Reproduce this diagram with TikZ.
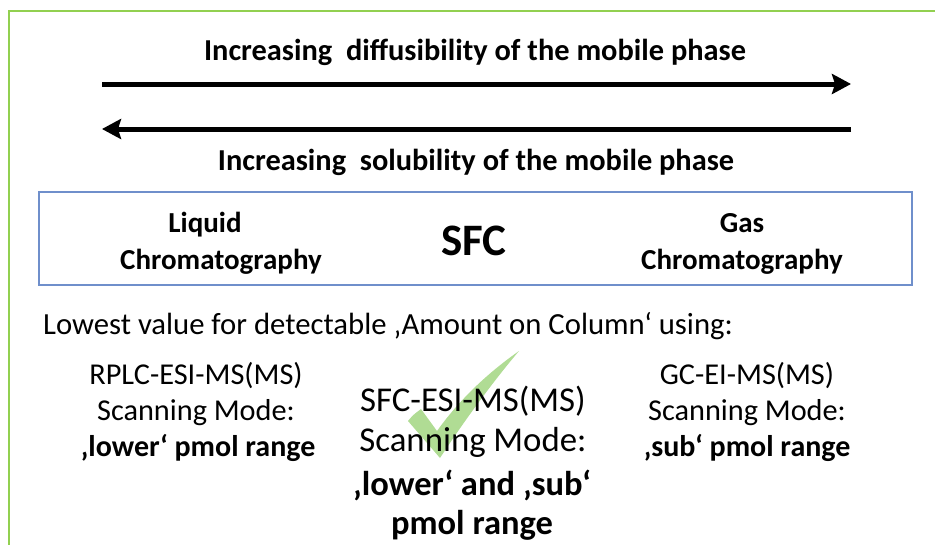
\documentclass[tikz,border=0pt]{standalone}
\usepackage{fontspec}
\setmainfont{Carlito}
\usetikzlibrary{arrows.meta}
\definecolor{framegreen}{HTML}{92D050}
\definecolor{checkgreen}{HTML}{B0DC94}
\definecolor{boxblue}{HTML}{6F8FCB}
\tikzset{
  hdr/.style={font=\bfseries\fontsize{30.4}{36}\selectfont, anchor=base, inner sep=0pt},
  boxlbl/.style={font=\bfseries\fontsize{29}{34}\selectfont, anchor=base, inner sep=0pt},
  sfclbl/.style={font=\bfseries\fontsize{45}{50}\selectfont, anchor=base, inner sep=0pt},
  plain/.style={font=\fontsize{30.7}{36}\selectfont, anchor=base, inner sep=0pt},
  side/.style={font=\fontsize{30.3}{36}\selectfont, anchor=base, inner sep=0pt},
  sidebold/.style={font=\bfseries\fontsize{30}{36}\selectfont, anchor=base, inner sep=0pt},
  mid/.style={font=\fontsize{34.8}{40}\selectfont, anchor=base, inner sep=0pt},
  midbold/.style={font=\bfseries\fontsize{34.5}{40}\selectfont, anchor=base, inner sep=0pt},
  bigarrow/.style={line width=5pt, -{Stealth[length=19pt,width=20pt,inset=3pt]}},
}
\begin{document}
\begin{tikzpicture}[x=1pt,y=-1pt]
\useasboundingbox (0,0) rectangle (935,544);
% frame
\draw[framegreen, line width=2.5pt] (9,560) -- (9,11) -- (950,11);
% check mark
\fill[checkgreen] (408,421) .. controls (413,415) .. (421,409) -- (437,431)
  .. controls (462,396) and (492,370) .. (519,351)
  .. controls (496,378) and (466,418) .. (440,458) -- cycle;
% headers and arrows
\node[hdr] (h1) at (475,60) {Increasing\ \ diffusibility of the mobile phase};
\coordinate (a1s) at (102,84);
\coordinate (a1e) at (851,84);
\draw[bigarrow] (a1s) -- (a1e);
\coordinate (a2s) at (851,129);
\coordinate (a2e) at (102,129);
\draw[bigarrow] (a2s) -- (a2e);
\node[hdr] (h2) at (476,170) {Increasing\ \ solubility of the mobile phase};
% box
\draw[boxblue, line width=1.2pt] (39,192) rectangle (912,285);
\node[boxlbl] (lc1) at (205,232) {Liquid};
\node[boxlbl] (lc2) at (221,269) {Chromatography};
\node[sfclbl] (sfc) at (474,255) {SFC};
\node[boxlbl] (gc1) at (742,232) {Gas};
\node[boxlbl] (gc2) at (742,269) {Chromatography};
% lower text
\node[plain, anchor=base west] (low) at (43,334) {Lowest value for detectable ‚Amount on Column‘ using:};
\node[side] (l1) at (196,384) {RPLC-ESI-MS(MS)};
\node[side] (l2) at (196,420) {Scanning Mode:};
\node[sidebold] (l3) at (198,456) {‚lower‘ pmol range};
\node[mid] (m1) at (473,411) {SFC-ESI-MS(MS)};
\node[mid] (m2) at (473,451) {Scanning Mode:};
\node[midbold] (m3) at (472,495) {‚lower‘ and ‚sub‘};
\node[midbold] (m4) at (472,534) {pmol range};
\node[side] (r1) at (747,384) {GC-EI-MS(MS)};
\node[side] (r2) at (747,420) {Scanning Mode:};
\node[sidebold] (r3) at (747,456) {‚sub‘ pmol range};
\end{tikzpicture}
\end{document}
